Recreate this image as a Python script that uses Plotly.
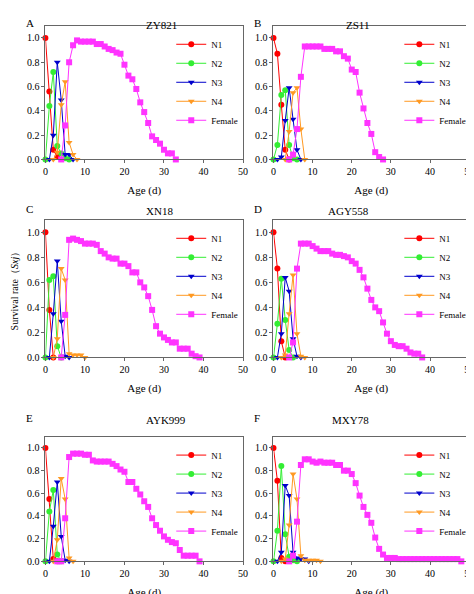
import plotly.graph_objects as go

# panel names
panels = ["ZY821", "ZS11", "XN18", "AGY558", "AYK999", "MXY78"]
letters = ["A", "B", "C", "D", "E", "F"]
stages = ["N1", "N2", "N3", "N4", "Female"]

# (first day, survival values) per stage, per panel
zy821 = {
    "N1": (0, [1.0, 0.56, 0.08, 0.02]),
    "N2": (0, [0, 0.44, 0.72, 0.11, 0.05, 0.01, 0]),
    "N3": (1, [0, 0.2, 0.8, 0.49, 0.04, 0.04, 0]),
    "N4": (2, [0, 0.06, 0.45, 0.64, 0.14, 0.04, 0]),
    "Female": (4, [0, 0.28, 0.8, 0.94, 0.98, 0.97, 0.97, 0.97, 0.97, 0.95, 0.95, 0.93, 0.91, 0.9,
                   0.88, 0.87, 0.78, 0.69, 0.66, 0.58, 0.47, 0.39, 0.3, 0.19, 0.16, 0.13, 0.08,
                   0.05, 0.05, 0]),
}
zs11 = {
    "N1": (0, [1.0, 0.87, 0.45, 0.08, 0]),
    "N2": (0, [0, 0.12, 0.53, 0.57, 0.12, 0.01, 0]),
    "N3": (1, [0, 0.02, 0.32, 0.59, 0.33, 0.08, 0]),
    "N4": (3, [0, 0.23, 0.55, 0.59, 0.25, 0]),
    "Female": (4, [0, 0.04, 0.25, 0.68, 0.93, 0.93, 0.93, 0.93, 0.93, 0.91, 0.91, 0.91, 0.89,
                   0.89, 0.85, 0.83, 0.74, 0.72, 0.55, 0.42, 0.3, 0.21, 0.06, 0.02, 0]),
}
xn18 = {
    "N1": (0, [1.0, 0.38, 0]),
    "N2": (0, [0, 0.62, 0.65, 0.09, 0]),
    "N3": (1, [0, 0.35, 0.77, 0.29, 0.01, 0]),
    "N4": (2, [0, 0.15, 0.71, 0.62, 0.03, 0.02, 0.02, 0.02, 0]),
    "Female": (4, [0, 0.34, 0.94, 0.95, 0.94, 0.93, 0.91, 0.91, 0.91, 0.9, 0.85, 0.83, 0.8, 0.79,
                   0.79, 0.75, 0.75, 0.73, 0.68, 0.68, 0.6, 0.56, 0.49, 0.38, 0.25, 0.19, 0.16,
                   0.14, 0.12, 0.12, 0.07, 0.07, 0.07, 0.03, 0.01, 0]),
}
agy558 = {
    "N1": (0, [1.0, 0.71, 0.13, 0]),
    "N2": (0, [0, 0.27, 0.63, 0.3, 0.06, 0]),
    "N3": (1, [0, 0.19, 0.64, 0.53, 0.15, 0.01, 0]),
    "N4": (2, [0, 0.02, 0.35, 0.66, 0.19, 0.01, 0]),
    "Female": (4, [0, 0.12, 0.71, 0.91, 0.91, 0.91, 0.89, 0.87, 0.85, 0.85, 0.85, 0.83, 0.82,
                   0.82, 0.81, 0.8, 0.77, 0.75, 0.7, 0.64, 0.55, 0.46, 0.4, 0.37, 0.28, 0.19,
                   0.13, 0.1, 0.09, 0.09, 0.07, 0.04, 0.03, 0.03, 0]),
}
ayk999 = {
    "N1": (0, [1.0, 0.55, 0.02, 0]),
    "N2": (0, [0, 0.44, 0.63, 0.06, 0]),
    "N3": (1, [0, 0.31, 0.7, 0.22, 0.01, 0]),
    "N4": (2, [0, 0.19, 0.73, 0.55, 0.03, 0]),
    "Female": (3, [0, 0, 0.38, 0.92, 0.95, 0.95, 0.95, 0.94, 0.94, 0.89, 0.88, 0.88, 0.88, 0.88,
                   0.86, 0.84, 0.81, 0.79, 0.7, 0.7, 0.64, 0.59, 0.53, 0.48, 0.38, 0.32, 0.27,
                   0.22, 0.19, 0.17, 0.16, 0.1, 0.05, 0.05, 0.05, 0.05, 0]),
}
mxy78 = {
    "N1": (0, [1.0, 0.71, 0.03, 0]),
    "N2": (0, [0, 0.27, 0.84, 0.24, 0.04, 0.01, 0]),
    "N3": (1, [0, 0.08, 0.67, 0.58, 0.08, 0.03, 0.02, 0.02, 0]),
    "N4": (2, [0, 0.02, 0.32, 0.77, 0.55, 0.05, 0.01, 0.01, 0.01, 0.01, 0]),
    "Female": (4, [0, 0.05, 0.35, 0.85, 0.9, 0.9, 0.88, 0.87, 0.88, 0.87, 0.87, 0.87, 0.85, 0.85,
                   0.8, 0.8, 0.77, 0.69, 0.58, 0.48, 0.41, 0.34, 0.21, 0.11, 0.06, 0.03, 0.03,
                   0.03] + [0.02] * 16 + [0]),
}
data = [zy821, zs11, xn18, agy558, ayk999, mxy78]

colors = {"N1": "#ff0000", "N2": "#33ee33", "N3": "#0000cc", "N4": "#ff9922", "Female": "#ff33ff"}
symbols = {"N1": "circle", "N2": "circle", "N3": "triangle-down", "N4": "triangle-down", "Female": "square"}

W, H = 474, 594
# plot boxes in pixels: left, right, top, bottom
xcols = [(35, 236), (267, 466)]
yrows = [(18, 153), (214, 353), (433, 559)]
font = "Liberation Serif"

fig = go.Figure()
layout = {}
annotations = []
for i, panel in enumerate(panels):
    r, c = divmod(i, 2)
    x0, x1 = xcols[c]
    y0, y1 = yrows[r]
    n = "" if i == 0 else str(i + 1)
    leg = "legend" + n
    for s in stages:
        start, vals = data[i][s]
        fig.add_trace(go.Scatter(
            x=list(range(start, start + len(vals))), y=vals, name=s,
            mode="lines+markers", xaxis="x" + n, yaxis="y" + n, legend=leg,
            line=dict(color=colors[s], width=1),
            marker=dict(symbol=symbols[s], size=6, color=colors[s]),
            cliponaxis=False,
        ))
    ax = dict(showline=True, mirror=True, linecolor="#666", linewidth=1, ticks="outside",
              ticklen=3, tickcolor="#666", showgrid=False, zeroline=False,
              tickfont=dict(size=10, family=font, color="black"))
    layout["xaxis" + n] = dict(ax, domain=[x0 / W, x1 / W], range=[0, 50], dtick=10,
                               anchor="y" + n,
                               title=dict(text="Age (d)", font=dict(size=11, family=font), standoff=9))
    layout["yaxis" + n] = dict(ax, domain=[1 - y1 / H, 1 - y0 / H], range=[0, 1.1], dtick=0.2,
                               tickformat=".1f", anchor="x" + n)
    if i == 2:
        layout["yaxis" + n]["title"] = dict(text="Survival rate（<i>Sxj</i>）",
                                            font=dict(size=10, family=font), standoff=6)
    layout[leg] = dict(x=(x0 + 128) / W, y=1 - (y0 + 4) / H, xanchor="left", yanchor="top",
                       bgcolor="rgba(0,0,0,0)", font=dict(size=9, family=font),
                       tracegroupgap=0, itemwidth=30)
    annotations.append(dict(text=panel, x=(x0 + x1) / 2 / W, y=1 - (y0 - 9) / H, xref="paper",
                            yref="paper", showarrow=False, font=dict(size=11, family=font)))
    annotations.append(dict(text=letters[i], x=(x0 - 22) / W, y=1 - (y0 - 11) / H, xref="paper",
                            yref="paper", showarrow=False, xanchor="left",
                            font=dict(size=11, family=font)))

fig.update_layout(width=W, height=H, margin=dict(l=0, r=0, t=0, b=0),
                  plot_bgcolor="white", paper_bgcolor="white", annotations=annotations,
                  font=dict(family=font, color="black"), **layout)
fig.write_html("out.html")
